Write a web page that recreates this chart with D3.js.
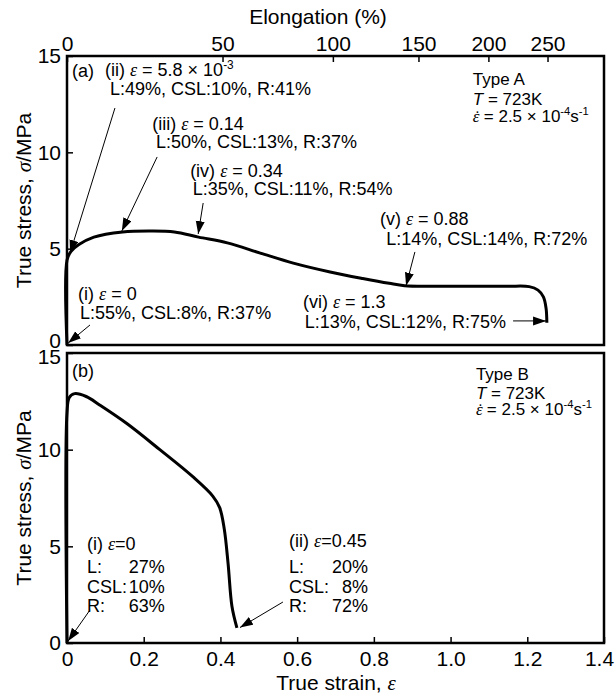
<!DOCTYPE html>
<meta charset="utf-8">
<style>
    body { margin: 0; background: #fff; }
    text { font-family: "Liberation Sans", Arial, sans-serif; fill: #000; }
    .it { font-family: "Liberation Serif", serif; font-style: italic; }
    .frame { fill: none; stroke: #000; stroke-width: 2.5px; }
    .curve { fill: none; stroke: #000; stroke-width: 3px; }
    .arrow { stroke: #000; stroke-width: 1px; }
</style>
<svg width="616" height="694"></svg>
<script src="https://cdn.jsdelivr.net/npm/d3@7"></script>
<script>

    // Type A curve (true strain, true stress MPa)
    var strainA = [0, 0, 0.01, 0.03, 0.07, 0.145, 0.22, 0.28, 0.343, 0.418, 0.504, 0.59, 0.686, 0.771, 0.84, 0.88, 0.95, 1.05, 1.15, 1.205, 1.228, 1.242, 1.249, 1.251];
    var stressA = [0, 4.4, 4.85, 5.2, 5.6, 5.87, 5.92, 5.87, 5.6, 5.3, 4.77, 4.25, 3.79, 3.45, 3.2, 3.08, 3.05, 3.05, 3.05, 3.03, 2.85, 2.5, 1.9, 1.15];
    // Type B curve
    var strainB = [0, 0, 0.006, 0.02, 0.05, 0.086, 0.156, 0.242, 0.328, 0.38, 0.398, 0.41, 0.42, 0.43, 0.443];
    var stressB = [0, 11.9, 12.7, 12.9, 12.75, 12.3, 11.35, 10.0, 8.6, 7.6, 7.0, 5.9, 4.1, 1.9, 0.78];

    var strainTicks = [0, 0.2, 0.4, 0.6, 0.8, 1.0, 1.2, 1.4];
    var elongTicks = [0, 50, 100, 150, 200, 250];
    var stressTicks = [0, 5, 10, 15];

    // text labels, anchored in data units of their panel
    var labelsA = [
        {x: 0.013, y: 13.91, t: ["(a)"]},
        {x: 0.099, y: 13.96, t: ["(ii) ", {i: "ε"}, " = 5.8 × 10", {s: "-3"}]},
        {x: 0.112, y: 12.98, t: ["L:49%, CSL:10%, R:41%"]},
        {x: 0.222, y: 11.16, t: ["(iii) ", {i: "ε"}, " = 0.14"]},
        {x: 0.232, y: 10.22, t: ["L:50%, CSL:13%, R:37%"]},
        {x: 0.321, y: 8.72, t: ["(iv) ", {i: "ε"}, " = 0.34"]},
        {x: 0.328, y: 7.79, t: ["L:35%, CSL:11%, R:54%"]},
        {x: 0.816, y: 6.23, t: ["(v) ", {i: "ε"}, " = 0.88"]},
        {x: 0.832, y: 5.19, t: ["L:14%, CSL:14%, R:72%"]},
        {x: 0.615, y: 1.92, t: ["(vi) ", {i: "ε"}, " = 1.3"]},
        {x: 0.620, y: 0.88, t: ["L:13%, CSL:12%, R:75%"]},
        {x: 0.029, y: 2.34, t: ["(i) ", {i: "ε"}, " = 0"]},
        {x: 0.034, y: 1.35, t: ["L:55%, CSL:8%, R:37%"]},
        {x: 1.058, y: 13.49, t: ["Type A"], f: 17},
        {x: 1.058, y: 12.46, t: [{i: "T", sans: 1}, " = 723K"], f: 17},
        {x: 1.058, y: 11.57, t: [{i: "ε", dot: 1}, " = 2.5 × 10", {s: "-4"}, {b: "s"}, {s: "-1"}], f: 17}
    ];
    var labelsB = [
        {x: 0.013, y: 13.76, t: ["(b)"]},
        {x: 1.066, y: 13.60, t: ["Type B"], f: 17},
        {x: 1.066, y: 12.62, t: [{i: "T", sans: 1}, " = 723K"], f: 17},
        {x: 1.066, y: 11.79, t: [{i: "ε", dot: 1}, " = 2.5 × 10", {s: "-4"}, {b: "s"}, {s: "-1"}], f: 17},
        {x: 0.052, y: 4.81, t: ["(i)  ", {i: "ε"}, "=0"]},
        {x: 0.052, y: 3.62, t: ["L:"], r: "27%", rx: 0.255},
        {x: 0.052, y: 2.59, t: ["CSL:"], r: "10%", rx: 0.255},
        {x: 0.052, y: 1.60, t: ["R:"], r: "63%", rx: 0.255},
        {x: 0.579, y: 4.97, t: ["(ii)  ", {i: "ε"}, "=0.45"]},
        {x: 0.579, y: 3.62, t: ["L:"], r: "20%", rx: 0.785},
        {x: 0.579, y: 2.59, t: ["CSL:"], r: "8%", rx: 0.785},
        {x: 0.579, y: 1.60, t: ["R:"], r: "72%", rx: 0.785}
    ];
    // arrows: from (x1,y1) to tip (x2,y2)
    var arrowsA = [
        [0.060, 1.04, 0.003, 0.10],
        [0.125, 12.30, 0.008, 4.77],
        [0.235, 9.76, 0.143, 5.92],
        [0.355, 7.37, 0.342, 5.76],
        [0.907, 4.83, 0.884, 3.08],
        [1.163, 1.25, 1.249, 1.25]
    ];
    var arrowsB = [
        [0.060, 1.71, 0.003, 0.10],
        [0.563, 2.12, 0.451, 0.80]
    ];

    var svg = d3.select("svg");
    var x = d3.scaleLinear().domain([0, 1.4]).range([67, 604]);

    var panels = [
        {y: d3.scaleLinear().domain([0, 15]).range([345, 56]), curve: [strainA, stressA], labels: labelsA, arrows: arrowsA},
        {y: d3.scaleLinear().domain([0, 15]).range([643, 353]), curve: [strainB, stressB], labels: labelsB, arrows: arrowsB}
    ];

    svg.append("defs").append("marker")
        .attr("id", "head")
        .attr("markerUnits", "userSpaceOnUse")
        .attr("markerWidth", 14).attr("markerHeight", 10)
        .attr("refX", 13).attr("refY", 4.5)
        .attr("orient", "auto")
        .append("path").attr("d", "M0,0L13,4.5L0,9Z").attr("fill", "#000");

    var fontFam = "Liberation Sans, Arial, sans-serif";

    function rich(sel, segs, size) {
        var sup = false;
        segs.forEach(function (s) {
            var ts = sel.append("tspan");
            if (typeof s === "string") {
                ts.text(s);
                if (sup) { ts.attr("dy", 7); sup = false; }
            } else if (s.s) {
                ts.text(s.s).attr("font-size", size * 0.66).attr("dy", sup ? 0 : -7);
                sup = true;
            } else if (s.b) {
                ts.text(s.b).attr("dy", 7);
                sup = false;
            } else if (s.i) {
                ts.text(s.i).attr("font-style", "italic");
                if (!s.sans) ts.attr("class", "it");
                if (sup) { ts.attr("dy", 7); sup = false; }
                if (s.dot) {
                    // dot above the epsilon (strain rate)
                    sel.append("tspan").attr("class", "it").text("\u02D9")
                        .attr("dx", -size * 0.36);
                }
            }
        });
    }

    var line = d3.line().curve(d3.curveCatmullRom.alpha(0.5));

    panels.forEach(function (p, k) {
        var y = p.y;
        var g = svg.append("g");

        // curve
        var pts = p.curve[0].map(function (s, i) { return [x(s), y(p.curve[1][i])]; });
        g.append("path").attr("class", "curve").attr("d", line(pts));

        // left axis
        var ay = g.append("g").attr("transform", "translate(" + x(0) + ",0)")
            .call(d3.axisLeft(y).tickValues(stressTicks).tickSizeInner(-6).tickSizeOuter(0).tickPadding(6));
        ay.select(".domain").remove();
        ay.attr("font-size", 21).attr("font-family", fontFam);
        ay.selectAll(".tick line").attr("stroke-width", 1.5);
        // keep the touching 0 / 15 labels of the two panels apart
        ay.selectAll(".tick text").attr("dy", function (d) {
            if (k === 0 && d === 0) return "0.12em";
            if (k === 1 && d === 15) return "0.5em";
            return "0.32em";
        });

        // y title
        g.append("text")
            .attr("transform", "translate(31," + ((y.range()[0] + y.range()[1]) / 2) + ") rotate(-90)")
            .attr("text-anchor", "middle")
            .attr("font-size", 21)
            .call(rich, ["True stress, ", {i: "σ"}, "/MPa"], 21);

        // labels
        p.labels.forEach(function (d) {
            var size = d.f || 18;
            var t = g.append("text").attr("x", x(d.x)).attr("y", y(d.y)).attr("font-size", size);
            rich(t, d.t, size);
            if (d.r) {
                g.append("text").attr("x", x(d.rx)).attr("y", y(d.y)).attr("font-size", size)
                    .attr("text-anchor", "end").text(d.r);
            }
        });

        // arrows
        g.selectAll(".arrow").data(p.arrows).enter().append("line")
            .attr("class", "arrow")
            .attr("x1", function (d) { return x(d[0]); })
            .attr("y1", function (d) { return y(d[1]); })
            .attr("x2", function (d) { return x(d[2]); })
            .attr("y2", function (d) { return y(d[3]); })
            .attr("marker-end", "url(#head)");

        // frame
        g.append("rect").attr("class", "frame")
            .attr("x", x(0)).attr("y", y(15))
            .attr("width", x(1.4) - x(0)).attr("height", y(0) - y(15));
    });

    // top elongation axis on panel a
    var ya = panels[0].y, yb = panels[1].y;
    var topAxis = svg.append("g").attr("transform", "translate(0," + ya(15) + ")")
        .call(d3.axisTop(x)
            .tickValues(elongTicks.map(function (e) { return Math.log(1 + e / 100); }))
            .tickFormat(function (d, i) { return elongTicks[i]; })
            .tickSizeInner(-6).tickSizeOuter(0).tickPadding(5));
    topAxis.select(".domain").remove();
    topAxis.attr("font-size", 21).attr("font-family", fontFam);
    topAxis.selectAll(".tick line").attr("stroke-width", 1.5);

    svg.append("text").attr("x", 318).attr("y", 24).attr("text-anchor", "middle")
        .attr("font-size", 21).text("Elongation (%)");

    // bottom strain axis on panel b
    var botAxis = svg.append("g").attr("transform", "translate(0," + yb(0) + ")")
        .call(d3.axisBottom(x).tickValues(strainTicks)
            .tickFormat(function (d) { return d === 0 ? "0" : d3.format(".1f")(d); })
            .tickSizeInner(-6).tickSizeOuter(0).tickPadding(8));
    botAxis.select(".domain").remove();
    botAxis.attr("font-size", 21).attr("font-family", fontFam);
    botAxis.selectAll(".tick line").attr("stroke-width", 1.5);
    botAxis.selectAll(".tick text").attr("dx", function (d) { return d === 1.4 ? -5 : 0; });

    svg.append("text").attr("x", 336).attr("y", 690).attr("text-anchor", "middle")
        .attr("font-size", 21)
        .call(rich, ["True strain, ", {i: "ε"}], 21);

</script>
